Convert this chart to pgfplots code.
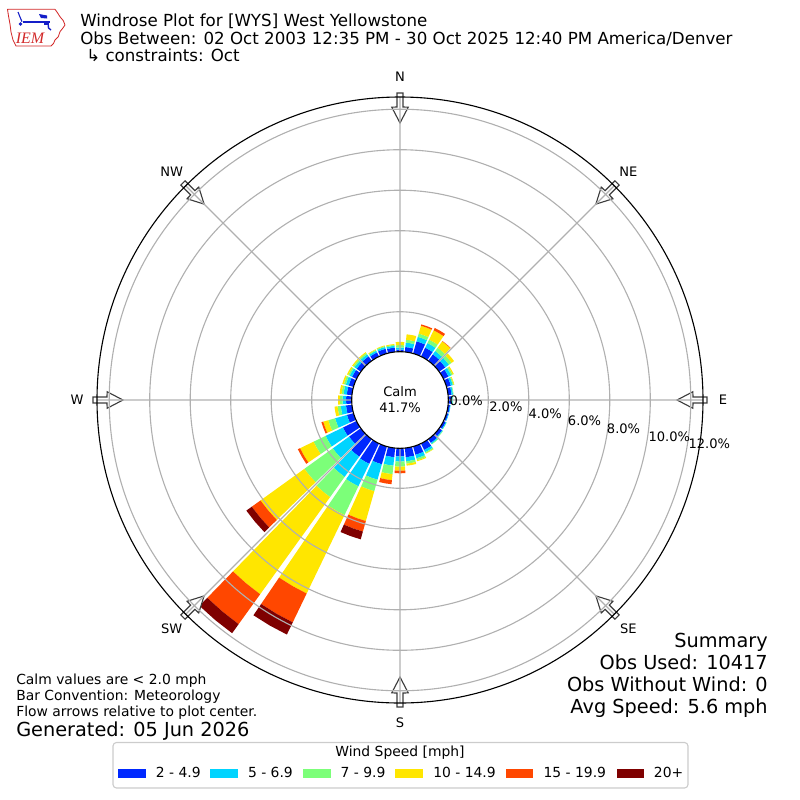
\documentclass[border=0pt]{standalone}
\usepackage{fontspec}
\setmainfont{DejaVu Sans}
\newfontfamily\lserif{Liberation Serif}
\usepackage{pgfplots}
\usepackage{pgfplotstable}
\pgfplotsset{compat=1.18}
\usepgfplotslibrary{polar}

\definecolor{ws1}{RGB}{0,40,255}
\definecolor{ws2}{RGB}{0,212,255}
\definecolor{ws3}{RGB}{124,255,121}
\definecolor{ws4}{RGB}{255,230,0}
\definecolor{ws5}{RGB}{255,71,0}
\definecolor{ws6}{RGB}{127,0,0}
\definecolor{gridc}{RGB}{176,176,176}
\definecolor{arrowc}{RGB}{60,60,60}
\definecolor{legc}{RGB}{204,204,204}
\definecolor{iemred}{RGB}{210,40,40}
\definecolor{iemblue}{RGB}{20,30,200}

% direction (deg from N), then percent of obs per speed class
\pgfplotstableread{
dir  b    c    g    y    r    d
0    0.13 0.10 0.12 0.16 0    0
10   0.27 0.22 0.14 0.27 0    0
20   0.65 0.23 0.17 0.40 0.07 0
30   0.51 0.25 0.19 0.51 0.13 0
40   0.42 0.20 0.20 0.39 0.02 0
50   0.40 0.22 0.16 0.15 0    0
60   0.30 0.15 0.08 0.06 0    0
70   0.25 0.10 0.05 0.03 0    0
80   0.20 0.07 0.03 0    0    0
90   0.18 0.06 0.03 0    0    0
100  0.12 0.03 0    0    0    0
110  0.12 0.03 0    0    0    0
120  0.15 0.04 0.01 0    0    0
130  0.20 0.04 0.02 0    0    0
140  0.25 0.06 0.03 0    0    0
150  0.38 0.12 0.06 0.02 0    0
160  0.45 0.18 0.10 0.05 0    0
170  0.48 0.20 0.12 0.10 0    0
180  0.43 0.25 0.25 0.20 0.13 0
190  0.48 0.42 0.42 0.30 0.20 0
200  0.94 0.79 0.59 1.53 0.54 0.40
210  1.14 1.23 1.58 4.30 1.58 0.67
220  1.09 1.23 1.23 5.91 1.82 0.55
230  0.74 0.99 1.73 2.67 0.53 0.33
240  0.77 0.95 0.66 0.74 0.12 0
250  0.36 0.61 0.35 0.26 0.09 0
260  0.32 0.26 0.16 0.15 0    0
270  0.30 0.18 0.12 0.10 0    0
280  0.28 0.16 0.10 0.10 0    0
290  0.27 0.15 0.10 0.08 0    0
300  0.27 0.13 0.08 0.07 0    0
310  0.28 0.13 0.08 0.06 0    0
320  0.30 0.12 0.08 0.05 0    0
330  0.25 0.09 0.05 0.03 0    0
340  0.27 0.09 0.05 0.03 0    0
350  0.24 0.09 0.05 0.04 0    0
}\wind

\newcommand\windarrow[1]{%
  \pgfmathsetmacro\aA{90-#1+0.56}%
  \pgfmathsetmacro\aB{90-#1+0.59}%
  \pgfmathsetmacro\aC{90-#1+1.62}%
  \pgfmathsetmacro\aD{90-#1}%
  \pgfmathsetmacro\aE{90-#1-1.62}%
  \pgfmathsetmacro\aF{90-#1-0.59}%
  \pgfmathsetmacro\aG{90-#1-0.56}%
  \edef\tmp{\noexpand\draw[draw=arrowc, fill=white, line width=0.8pt, line join=miter]
    (axis cs:\aA,15.16) -- (axis cs:\aB,14.47) -- (axis cs:\aC,14.47) -- (axis cs:\aD,13.68)
    -- (axis cs:\aE,14.47) -- (axis cs:\aF,14.47) -- (axis cs:\aG,15.16) -- cycle;}%
  \tmp}

\tikzset{
  f10/.style={font=\fontsize{10}{12}\selectfont, inner sep=0pt},
  ftk/.style={font=\fontsize{9.4}{11}\selectfont, inner sep=0pt},
  f12/.style={font=\fontsize{12}{14}\selectfont, inner sep=0pt},
  f14/.style={font=\fontsize{13.9}{16}\selectfont, inner sep=0pt},
  px/.style={x=0.72pt,y=-0.72pt},
}

\begin{document}
\begin{tikzpicture}
\useasboundingbox (0,0) rectangle (576pt,-576pt);

\begin{scope}[px]
% ---- logo ----
\draw[iemred, line width=0.6pt, line join=round]
  (7.5,9.3) -- (55,9.3) -- (57,12) -- (60,16.7) -- (63.3,20.7) -- (65,25) -- (62.7,28.3)
  -- (60,31.7) -- (58.3,36.7) -- (55,40) -- (53.5,43.5) -- (51,46) -- (16,46) -- (13,40)
  -- (11,32) -- (10,24) -- (8.5,16) -- cycle;
\draw[iemblue, line width=1.6pt] (23,21.7) -- (50,21.7);
\fill[iemblue] (39,14) -- (47,15.5) -- (47,18.5) -- (41,18) -- cycle;
\draw[iemblue, line width=0.8pt] (18,12) -- (20,17) -- (22,21.7);
\fill[iemblue] (20.5,24) circle[radius=1.3pt];
\draw[iemblue, line width=1pt] (48,21.7) -- (48.5,28) -- (51,30);
\fill[iemblue] (44,22) rectangle (49,25);
\node[anchor=base west, inner sep=0pt, text=iemred, font=\lserif\itshape\fontsize{11.5}{12}\selectfont] at (15.5,43.5) {IEM};

% ---- title ----
\node[f12, anchor=base west] at (80,26.7) {Windrose Plot for [WYS] West Yellowstone};
\node[f12, anchor=base west] at (80,44.5) {Obs Between: 02 Oct 2003 12:35 PM - 30 Oct 2025 12:40 PM America/Denver};
\node[f12, anchor=base west] at (86,61.7) {↳ constraints: Oct};
\end{scope}

\begin{polaraxis}[
  at={(288pt,-288pt)}, anchor=center,
  scale only axis, width=436.32pt, height=436.32pt,
  ymin=0, ymax=14.963,
  xtick={0,45,90,135,180,225,270,315}, xticklabels={},
  ytick={2.36,4.36,6.36,8.36,10.36,12.36,14.36}, yticklabels={},
  grid=major,
  major grid style={draw=gridc, line width=0.8pt},
  separate axis lines,
  x axis line style={black, line width=0.8pt},
  y axis line style={draw=none},
  major tick length=0pt,
  axis on top,
  clip=false,
]
\pgfplotsforeachungrouped \i in {0,...,35}{%
  \pgfplotstablegetelem{\i}{dir}\of\wind
  \let\dir\pgfplotsretval
  \pgfmathsetmacro\aone{90-\dir-4.25}%
  \pgfmathsetmacro\amid{90-\dir}%
  \pgfmathsetmacro\atwo{90-\dir+4.25}%
  \def\rlo{2.36}%
  \pgfplotsforeachungrouped \k in {1,...,6}{%
    \pgfplotstablegetelem{\i}{[index]\k}\of\wind
    \let\val\pgfplotsretval
    \ifdim\val pt>0pt
      \pgfmathsetmacro\rhi{\rlo+\val}%
      \edef\doit{\noexpand\addplot[draw=none, fill=ws\k] coordinates
        {(\aone,\rlo) (\amid,\rlo) (\atwo,\rlo) (\atwo,\rhi) (\amid,\rhi) (\aone,\rhi)} -- cycle;}%
      \doit
      \let\rlo\rhi
    \fi
  }%
}
\windarrow{0}\windarrow{45}\windarrow{90}\windarrow{135}
\windarrow{180}\windarrow{225}\windarrow{270}\windarrow{315}
\end{polaraxis}

\begin{scope}[px]
% ---- calm circle ----
\filldraw[fill=white, draw=black, line width=0.8pt] (400,400) circle[radius=34.8pt];
\node[ftk, anchor=base] at (400,396.5) {Calm};
\node[ftk, anchor=base] at (400,412) {41.7\%};

% ---- radial labels ----
\node[ftk, anchor=west] at (449.3,400.7) {0.0\%};
\node[ftk, anchor=west] at (489,406.7) {2.0\%};
\node[ftk, anchor=west] at (528.3,413.3) {4.0\%};
\node[ftk, anchor=west] at (567.7,420.7) {6.0\%};
\node[ftk, anchor=west] at (606.7,429) {8.0\%};
\node[ftk, anchor=west] at (648.3,436.7) {10.0\%};
\node[ftk, anchor=west] at (688.3,443.3) {12.0\%};

% ---- compass labels ----
\node[ftk] at (400,77) {N};
\node[ftk] at (628.4,171.6) {NE};
\node[ftk] at (723,400) {E};
\node[ftk] at (628.4,628.4) {SE};
\node[ftk] at (400,723) {S};
\node[ftk] at (171.6,628.4) {SW};
\node[ftk] at (77,400) {W};
\node[ftk] at (171.6,171.6) {NW};

% ---- summary ----
\node[f14, anchor=base east] at (768,647) {Summary};
\node[f14, anchor=base east] at (768,669) {Obs Used: 10417};
\node[f14, anchor=base east] at (768,691) {Obs Without Wind: 0};
\node[f14, anchor=base east] at (768,713) {Avg Speed: 5.6 mph};

% ---- notes ----
\node[f10, anchor=base west] at (16,684) {Calm values are \textless{} 2.0 mph};
\node[f10, anchor=base west] at (16,700) {Bar Convention: Meteorology};
\node[f10, anchor=base west] at (16,716) {Flow arrows relative to plot center.};
\node[f14, anchor=base west] at (16,736) {Generated: 05 Jun 2026};

% ---- legend ----
\draw[draw=legc, fill=white, line width=0.8pt, rounded corners=2.5pt] (113,742.5) rectangle (688,788);
\node[f10, anchor=base] at (400,756.5) {Wind Speed [mph]};
\fill[ws1] (118.1,768.5) rectangle (145.9,777.5);
\node[f10, anchor=base west] at (155.6,777.5) {2 - 4.9};
\fill[ws2] (210,768.5) rectangle (237.8,777.5);
\node[f10, anchor=base west] at (247.8,777.5) {5 - 6.9};
\fill[ws3] (303.3,768.5) rectangle (331.1,777.5);
\node[f10, anchor=base west] at (340.4,777.5) {7 - 9.9};
\fill[ws4] (395.2,768.5) rectangle (423,777.5);
\node[f10, anchor=base west] at (433,777.5) {10 - 14.9};
\fill[ws5] (506.3,768.5) rectangle (533.3,777.5);
\node[f10, anchor=base west] at (543.3,777.5) {15 - 19.9};
\fill[ws6] (616.7,768.5) rectangle (644.4,777.5);
\node[f10, anchor=base west] at (653.7,777.5) {20+};
\end{scope}
\end{tikzpicture}
\end{document}
